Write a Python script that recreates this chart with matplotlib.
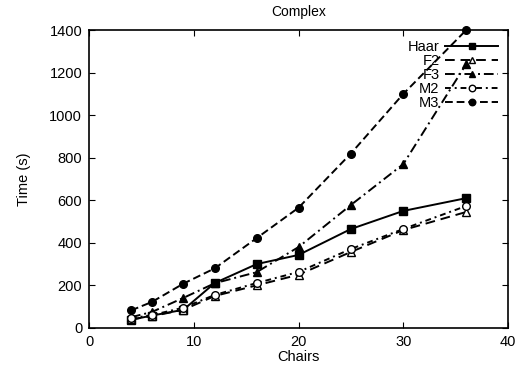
import matplotlib
matplotlib.use("Agg")
import matplotlib.pyplot as plt

plt.rcParams['font.family'] = ['Liberation Sans', 'DejaVu Sans']

chairs = [4, 6, 9, 12, 16, 20, 25, 30, 36]
haar = [38, 58, 85, 211, 300, 343, 465, 550, 610]
f2 = [40, 55, 85, 150, 200, 250, 357, 460, 545]
f3 = [50, 75, 141, 210, 262, 380, 578, 770, 1240]
m2 = [45, 60, 95, 155, 211, 263, 371, 465, 573]
m3 = [82, 122, 208, 280, 422, 565, 820, 1100, 1400]

series = [
    ("Haar", haar, dict(linestyle='-', marker='s', mfc='black')),
    ("F2", f2, dict(linestyle=(0, (5, 3)), marker='^', mfc='white')),
    ("F3", f3, dict(linestyle=(0, (5, 2, 1, 2)), marker='^', mfc='black')),
    ("M2", m2, dict(linestyle=(0, (3, 2, 1, 2)), marker='o', mfc='white')),
    ("M3", m3, dict(linestyle=(0, (4, 2)), marker='o', mfc='black')),
]

fig = plt.figure(figsize=(5.21, 3.68), dpi=100)
ax = fig.add_axes([0.171, 0.109, 0.804, 0.809])

for name, vals, style in series:
    ax.plot(chairs, vals, color='black', lw=1.4, ms=5.5, mec='black',
            label=name, clip_on=False, **style)

ax.set_xlim(0, 40)
ax.set_ylim(0, 1400)
ax.set_xticks(range(0, 41, 10))
ax.set_yticks(range(0, 1401, 200))
ax.tick_params(direction='in', top=True, right=True, length=4, labelsize=10.5,
               pad=5)
for s in ax.spines.values():
    s.set_linewidth(1.2)

ax.set_title("Complex", fontsize=10, pad=10)
ax.set_xlabel("Chairs", fontsize=10.5, labelpad=1)
ax.set_ylabel("Time (s)", fontsize=10.5, labelpad=13)

ax.legend(loc='upper right', markerfirst=False, frameon=False, fontsize=10.5,
          handlelength=3.6, labelspacing=0.0, handleheight=0.6,
          borderaxespad=0.3, handletextpad=0.4, markerscale=0.85)

fig.savefig("out.png", dpi=100)
